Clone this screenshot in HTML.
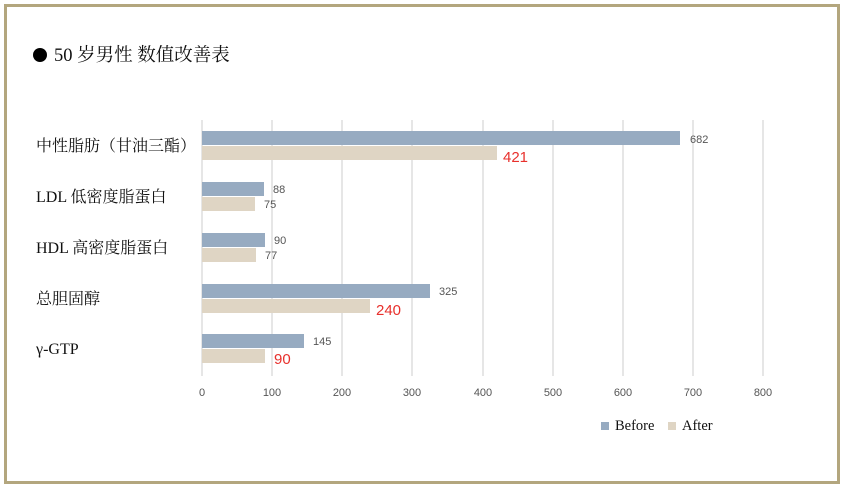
<!DOCTYPE html>
<html><head><meta charset="utf-8"><style>
body{margin:0;background:#fff;width:847px;height:492px;overflow:hidden}
svg{display:block}
.s{font-family:"Liberation Serif","Noto Serif CJK SC",serif;fill:#111}
.v{font-family:"Liberation Sans","DejaVu Sans",sans-serif;font-size:11px;fill:#555}
.r{font-family:"Liberation Sans","DejaVu Sans",sans-serif;font-size:15px;fill:#e8302c}
.t{font-family:"Liberation Sans","DejaVu Sans",sans-serif;font-size:11px;fill:#555}
</style></head><body>
<svg width="847" height="492" xmlns="http://www.w3.org/2000/svg">
<rect x="5.5" y="5.5" width="833" height="477" fill="#fff" stroke="#b3a67e" stroke-width="3"/>
<circle cx="40" cy="55" r="7" fill="#000"/>
<text x="54" y="61" class="s" font-size="18.5">50 岁男性  数值改善表</text>
<g stroke="#d9d9d9" stroke-width="1.3">
<line x1="202" y1="120" x2="202" y2="376"/><line x1="272" y1="120" x2="272" y2="376"/>
<line x1="342" y1="120" x2="342" y2="376"/><line x1="412" y1="120" x2="412" y2="376"/>
<line x1="483" y1="120" x2="483" y2="376"/><line x1="553" y1="120" x2="553" y2="376"/>
<line x1="623" y1="120" x2="623" y2="376"/><line x1="693" y1="120" x2="693" y2="376"/>
<line x1="763" y1="120" x2="763" y2="376"/>
</g>
<g fill="#97abc1">
<rect x="202" y="131" width="478" height="14"/>
<rect x="202" y="182" width="62" height="14"/>
<rect x="202" y="233" width="63" height="14"/>
<rect x="202" y="284" width="228" height="14"/>
<rect x="202" y="334" width="102" height="14"/>
</g>
<g fill="#dfd5c4">
<rect x="202" y="146" width="295" height="14"/>
<rect x="202" y="197" width="53" height="14"/>
<rect x="202" y="248" width="54" height="14"/>
<rect x="202" y="299" width="168" height="14"/>
<rect x="202" y="349" width="63" height="14"/>
</g>
<text x="690" y="143" class="v">682</text>
<text x="503" y="162" class="r">421</text>
<text x="273" y="193" class="v">88</text>
<text x="264" y="208" class="v">75</text>
<text x="274" y="244" class="v">90</text>
<text x="265" y="259" class="v">77</text>
<text x="439" y="295" class="v">325</text>
<text x="376" y="315" class="r">240</text>
<text x="313" y="345" class="v">145</text>
<text x="274" y="364" class="r">90</text>
<g class="s" font-size="16">
<text x="36" y="151">中性脂肪（甘油三酯）</text>
<text x="36" y="202">LDL 低密度脂蛋白</text>
<text x="36" y="253">HDL 高密度脂蛋白</text>
<text x="36" y="304">总胆固醇</text>
<text x="36" y="354">γ-GTP</text>
</g>
<g class="t" text-anchor="middle">
<text x="202" y="396">0</text><text x="272" y="396">100</text><text x="342" y="396">200</text>
<text x="412" y="396">300</text><text x="483" y="396">400</text><text x="553" y="396">500</text>
<text x="623" y="396">600</text><text x="693" y="396">700</text><text x="763" y="396">800</text>
</g>
<rect x="601" y="422" width="8" height="8" fill="#97abc1"/>
<text x="615" y="430" class="s" font-size="14.5">Before</text>
<rect x="668" y="422" width="8" height="8" fill="#dfd5c4"/>
<text x="682" y="430" class="s" font-size="14.5">After</text>
</svg>
</body></html>
